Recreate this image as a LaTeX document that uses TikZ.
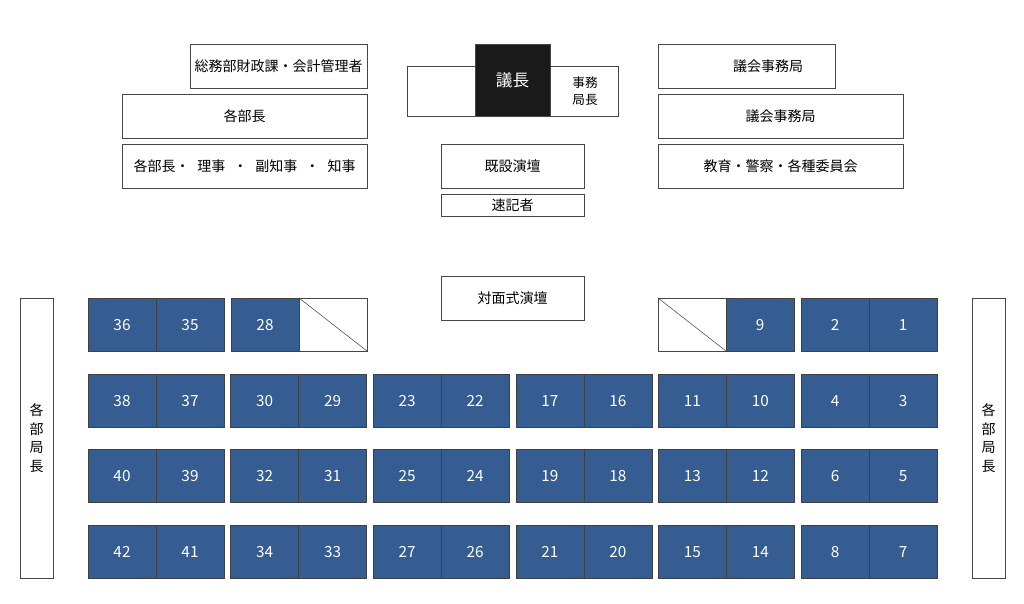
\documentclass[tikz,border=0pt]{standalone}
\usepackage{fontspec}
\setmainfont{Noto Sans CJK JP}
\usetikzlibrary{positioning}
\definecolor{SeatBlue}{RGB}{54,93,145}
\definecolor{BoxLine}{RGB}{70,70,70}
\definecolor{ChairBlack}{RGB}{26,26,26}

\tikzset{
  box/.style={draw=BoxLine, fill=white, inner sep=0pt, minimum height=33pt, font=\fontsize{10.5}{12}\selectfont},
  seat/.style={draw=black!75, fill=SeatBlue, text=white, inner sep=0pt, minimum width=51pt, minimum height=39.75pt, text height=0.95em, text depth=0pt, font=\fontsize{11.5}{13}\selectfont},
  emptyseat/.style={draw=BoxLine, fill=white, inner sep=0pt, minimum width=51pt, minimum height=39.75pt},
  sidebox/.style={draw=BoxLine, fill=white, inner sep=0pt, minimum width=24.75pt, minimum height=210pt, align=center, font=\fontsize{10.5}{14}\selectfont},
}

\begin{document}
\begin{tikzpicture}[x=0.75pt, y=-0.75pt]
\useasboundingbox (0,0) rectangle (1024,603);

% left block
\node[box, minimum width=132.75pt] (admin) at (278.5,66) {総務部財政課・会計管理者};
\node[box, minimum width=183.75pt] (heads) at (244.5,116) {各部長};
\node[box, minimum width=183.75pt] (exec) at (244.5,166) {各部長・\hspace{6pt}理事\hspace{6pt}・\hspace{6pt}副知事\hspace{6pt}・\hspace{6pt}知事};

% chair and podium
\node[box, minimum width=158.25pt, minimum height=37.5pt] (dais) at (512.5,91) {};
\node[draw=BoxLine, fill=ChairBlack, text=white, inner sep=0pt, minimum width=56.25pt, minimum height=54pt, font=\fontsize{12.5}{14}\selectfont] (chair) at (512.5,80) {議長};
\node[align=center, inner sep=0pt, font=\fontsize{9.5}{13}\selectfont] (clerk) at (585,91) {事務\\局長};
\node[box, minimum width=107.25pt] (podium) at (512.5,166) {既設演壇};
\node[box, minimum width=107.25pt, minimum height=16.5pt] (steno) at (512.5,205) {速記者};
\node[box, minimum width=107.25pt] (facing) at (512.5,298) {対面式演壇};

% right block
\node[box, minimum width=132.75pt] (office) at (746.5,66) {};
\node[inner sep=0pt, font=\fontsize{10.5}{12}\selectfont] (officetxt) at (768,66) {議会事務局};
\node[box, minimum width=183.75pt] (office2) at (780.5,116) {議会事務局};
\node[box, minimum width=183.75pt] (boards) at (780.5,166) {教育・警察・各種委員会};

% side seats
\node[sidebox] (sideL) at (36.5,438) {各\\部\\局\\長};
\node[sidebox] (sideR) at (988.5,438) {各\\部\\局\\長};

% front row
\node[seat] (seat36) at (122,324.5) {36};
\node[seat] (seat35) at (190,324.5) {35};
\node[seat] (seat28) at (265,324.5) {28};
\node[emptyseat] (gapL) at (333,324.5) {};
\node[emptyseat] (gapR) at (692,324.5) {};
\node[seat] (seat9) at (760,324.5) {9};
\node[seat] (seat2) at (835,324.5) {2};
\node[seat] (seat1) at (903,324.5) {1};
\draw[BoxLine] (gapL.north west) -- (gapL.south east);
\draw[BoxLine] (gapR.north west) -- (gapR.south east);

% other rows
\foreach \y/\nums in {400.5/{38,37,30,29,23,22,17,16,11,10,4,3},
                      475.5/{40,39,32,31,25,24,19,18,13,12,6,5},
                      551.5/{42,41,34,33,27,26,21,20,15,14,8,7}}
  \foreach \n [count=\c from 0] in \nums {
    \pgfmathsetmacro\sx{122+142.6*int(\c/2)+68*mod(\c,2)}
    \node[seat] (seat\n) at (\sx,\y) {\n};
  }
\end{tikzpicture}
\end{document}
